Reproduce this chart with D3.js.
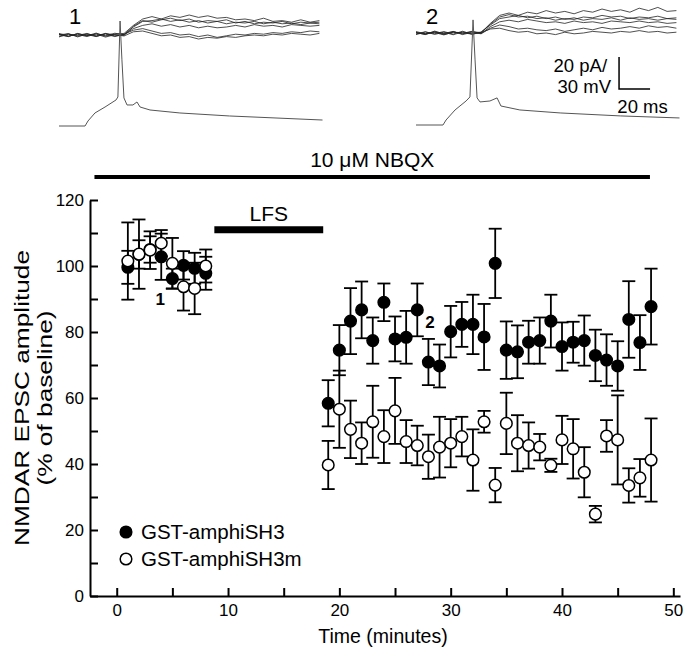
<!DOCTYPE html>
<head>
    <meta charset="utf-8">
    <script src="https://d3js.org/d3.v7.min.js"></script>
    <style>
        body { margin: 0; background: #fff; }
        text { font-family: "Liberation Sans", Arial, sans-serif; fill: #000; }
    </style>
</head>

<body>
    <div id="chart"></div>
</body>

<script>

    // time points (minutes)
    const times = [1, 2, 3, 4, 5, 6, 7, 8,
        19, 20, 21, 22, 23, 24, 25, 26, 27, 28, 29, 30, 31, 32, 33,
        34, 35, 36, 37, 38, 39, 40, 41, 42, 43, 44, 45, 46, 47, 48];

    // GST-amphiSH3 (filled)
    const sh3Mean = [99.6, 103.5, 105, 102.8, 96.2, 100.2, 99.3, 97.8,
        58.4, 74.5, 83.3, 86.7, 77.4, 89, 77.9, 78.4, 86.7, 70.9, 69.7, 80.1, 82.3, 82.3, 78.5,
        100.8, 74.5, 74, 76.9, 77.4, 83.3, 75.6, 76.9, 77.4, 72.9, 71.5, 69.7, 83.8, 76.8, 87.7];
    const sh3Sem = [5, 4.3, 4, 7, 3, 4.3, 4.7, 5,
        7, 7.6, 10, 8.6, 7, 5.7, 6.8, 8, 8, 7, 6.5, 7.8, 6.8, 9, 10,
        10.5, 8.7, 8, 6.5, 7, 8, 7.3, 6.2, 7.6, 7.8, 7.8, 7.5, 11.6, 8.3, 11.5];

    // GST-amphiSH3m (open)
    const sh3mMean = [101.5, 103.6, 104.8, 106.9, 100.8, 93.7, 93.2, 100,
        39.7, 56.6, 50.5, 46.3, 52.8, 48.3, 56.1, 46.8, 45.6, 42.2, 45.1, 46.3, 48.3, 41.2, 52.8,
        33.6, 52.3, 46.3, 45.6, 45.1, 39.6, 47.3, 44.6, 37.5, 24.8, 48.5, 47.3, 33.5, 35.8, 41.2];
    const sh3mSem = [11.7, 10.5, 5.7, 4, 7.7, 7.2, 7.8, 5,
        7.3, 11.7, 8.7, 6.3, 10.9, 8, 10, 6.5, 6, 6.7, 9.2, 7.3, 6, 9.3, 3.3,
        5.2, 9.3, 8.5, 7, 4, 2, 7.3, 9, 7.6, 2.5, 4.8, 13.5, 5.2, 5.7, 12.6];

    const seriesNames = ["GST-amphiSH3", "GST-amphiSH3m"];

    // drug / protocol bars (minutes)
    const nbqx = {label: "10 \u03bcM NBQX", start: -2, end: 47.9};
    const lfs = {label: "LFS", start: 8.77, end: 18.55, level: 111};

    // example trace labels placed on the time course
    const marks = [{label: "1", t: 3.9, v: 90}, {label: "2", t: 28.15, v: 83}];

    // ---- example traces (ms, pA and mV) ----
    const traceTimes = [0, 6, 12, 18, 24, 30, 36, 42, 48, 54, 60, 66, 72, 78, 84, 90, 96, 102,
        108, 114, 120, 126, 132, 138, 144, 150, 156, 162, 168];

    const epsc1 = [
        [0.5, -1, 1, -0.5, 1.2, -0.8, 0.6, 1, 6, 10, 11.5, 10, 12, 11, 12.5, 11, 12, 10.5, 11, 9.5, 10, 9, 10.5, 8.5, 9, 8, 9.5, 8, 9],
        [-0.8, 0.9, -1.2, 0.7, -0.5, 1, -0.6, 0.4, 5, 8.5, 9, 10, 8.5, 9.5, 8, 9, 7.5, 8.5, 7, 8, 7.5, 8.5, 7, 8, 7, 7.5, 6.5, 7.5, 7],
        [0.2, 0.7, -0.8, 0.3, -1, 0.9, 0.1, -0.3, 5.5, 9, 8, 9.5, 10.5, 9, 10, 8, 9, 8.5, 9.5, 7.5, 8.5, 7, 8, 7.5, 8.5, 7, 8, 7.5, 8],
        [1, -0.6, 0.4, -1, 0.8, -0.4, 1.1, 0.2, 4, 6, 7, 5.5, 6.5, 5, 6, 4.5, 5.5, 4.5, 5, 6, 5, 6.5, 5.5, 6, 5, 6.5, 6, 5.5, 6],
        [-1.2, 0.4, -0.3, 1, -0.9, 0.6, -1, 0.5, 3, 4, 2.5, 1, 1.5, 0, 0.5, -1, 0, -1.5, -0.5, 0.5, 0, 1, 0.5, 1.5, 1, 2, 1.5, 2.5, 2],
        [0.3, -1, 0.9, -0.4, 0.6, -1.3, 0.2, -0.6, 2, 2.5, 1, -0.5, 0, -1.5, -1, -2.5, -1.5, -2, -1, -1.5, -0.5, 0, -0.5, 0.5, 0, 1, 0.5, 0, 1]
    ];
    const epsc2 = [
        [0.4, -1, 1.2, -0.5, 0.8, -0.6, 0.9, 0.2, 6, 11, 12.5, 11, 13, 12, 14, 12.5, 13.5, 12, 14, 13, 15, 13.5, 14.5, 13, 15.5, 14, 16, 13.5, 14],
        [-0.6, 0.8, -0.9, 0.5, -1.1, 0.7, -0.3, 0.6, 5, 9, 10, 11, 9.5, 10.5, 9, 10, 8.5, 9.5, 8, 9, 8.5, 9.5, 8, 9.5, 8.5, 9, 8, 9, 8.5],
        [0.1, -0.4, 0.8, -1, 0.5, 0.2, -0.7, 0.4, 5.5, 10, 11.5, 10, 10.5, 9, 9.5, 8, 9, 8.5, 10, 9.5, 11, 10, 10.5, 9, 10, 9.5, 10.5, 9, 9.5],
        [0.9, -0.5, 0.3, -1.2, 0.6, -0.2, 1, -0.4, 4, 7, 8, 7, 8.5, 7.5, 6.5, 7, 6, 7.5, 6.5, 7, 6, 7.5, 7, 6.5, 7.5, 6.5, 7, 6, 6.5],
        [-1, 0.6, -0.4, 0.9, -0.7, 1.1, -0.8, 0.3, 2.5, 3, 1.5, 0.5, 1, -0.5, 0, -1, 0.5, -0.5, 0, 1, 0.5, 0, 1, 0.5, 1.5, 0.5, 1, 0, 0.5],
        [0.2, -0.9, 0.7, -0.3, 1, -1, 0.4, -0.5, 3, 5, 4, 2.5, 3, 2, 1.5, 2.5, 1, 2, 3, 2, 3.5, 2.5, 3, 4, 3, 4.5, 3.5, 4, 3]
    ];

    // postsynaptic action potential, [ms, mV]
    const spike1 = [[0, -70], [16.8, -70], [18.7, -65.3], [23.2, -57.8], [29.7, -52.2], [36.8, -45.6],
        [38, -42.8], [39.4, 28.4], [40.6, -8], [41.9, -43.7], [43.9, -50.3], [47.7, -50.3], [50.3, -47.5],
        [52.3, -52.2], [58.7, -55], [78, -57.8], [110, -60.6], [170, -64.4]];
    const spike2 = [[0, -70], [17.4, -70], [19.4, -65.3], [25.2, -55.9], [32.3, -47.5], [34.8, -43.7],
        [36.8, 28.5], [38.1, -9], [39.4, -44.6], [41.3, -48.4], [47.7, -47.5], [52.3, -44.6], [54.8, -52.2],
        [67, -55.9], [93, -58.7], [132, -61.5], [170, -63.4]];

    const svg = d3.select("#chart")
        .append("svg")
            .attr("width", 685)
            .attr("height", 655);

    // ---------- time course ----------
    const x = d3.scaleLinear()
        .domain([-2.4, 50.6])
        .range([90, 680]);
    const y = d3.scaleLinear()
        .domain([0, 120])
        .range([596, 200]);

    // X axis
    const xAx = svg.append("g")
        .attr("transform", `translate(0, ${y(0)})`)
        .call(d3.axisBottom(x)
            .tickValues(d3.range(0, 51, 5))
            .tickSizeInner(-8)
            .tickSizeOuter(0)
            .tickPadding(6)
            .tickFormat(d => d % 10 === 0 ? d : ""));

    // Y axis
    const yAx = svg.append("g")
        .attr("transform", `translate(${x(-2.4)}, 0)`)
        .call(d3.axisLeft(y)
            .tickValues(d3.range(0, 121, 10))
            .tickSizeInner(-8)
            .tickSizeOuter(0)
            .tickPadding(6)
            .tickFormat(d => d % 20 === 0 ? d : ""));

    [xAx, yAx].forEach(g => {
        g.selectAll("path, line").attr("stroke", "#000").attr("stroke-width", 2);
        g.selectAll("text").attr("font-size", 17).attr("font-family", "Liberation Sans, Arial, sans-serif").attr("fill", "#000");
    });
    xAx.selectAll("text").attr("dy", "0.85em");

    // axis titles
    svg.append("text")
        .attr("x", (x(-2.4) + x(50.6)) / 2 - 2)
        .attr("y", 643)
        .attr("text-anchor", "middle")
        .attr("font-size", 19.5)
        .text("Time (minutes)");

    const yt = svg.append("text")
        .attr("transform", `translate(0, ${y(60)}) rotate(-90) scale(1.25, 1)`)
        .attr("text-anchor", "middle")
        .attr("font-size", 21);
    yt.append("tspan").attr("x", 0).attr("y", 29).text("NMDAR EPSC amplitude");
    yt.append("tspan").attr("x", 0).attr("y", 52).text("(% of baseline)");

    // NBQX and LFS bars
    svg.append("line")
        .attr("x1", x(nbqx.start)).attr("x2", x(nbqx.end))
        .attr("y1", 177).attr("y2", 177)
        .attr("stroke", "#000").attr("stroke-width", 4);
    svg.append("text")
        .attr("x", (x(nbqx.start) + x(nbqx.end)) / 2)
        .attr("y", 167)
        .attr("text-anchor", "middle")
        .attr("font-size", 21)
        .text(nbqx.label);

    svg.append("line")
        .attr("x1", x(lfs.start)).attr("x2", x(lfs.end))
        .attr("y1", y(lfs.level)).attr("y2", y(lfs.level))
        .attr("stroke", "#000").attr("stroke-width", 7);
    svg.append("text")
        .attr("x", (x(lfs.start) + x(lfs.end)) / 2)
        .attr("y", y(lfs.level) - 9)
        .attr("text-anchor", "middle")
        .attr("font-size", 21)
        .text(lfs.label);

    // data series
    const series = [
        {name: seriesNames[0], mean: sh3Mean, sem: sh3Sem, fill: "#000"},
        {name: seriesNames[1], mean: sh3mMean, sem: sh3mSem, fill: "#fff"}
    ];
    const cap = 6.5;

    series.forEach(s => {
        const pts = times.map((t, i) => ({t: t, m: s.mean[i], e: s.sem[i]}));
        const g = svg.append("g");

        const eb = g.selectAll(".eb")
            .data(pts)
            .join("g")
            .attr("stroke", "#000")
            .attr("stroke-width", 1.8);
        eb.append("line")
            .attr("x1", d => x(d.t)).attr("x2", d => x(d.t))
            .attr("y1", d => y(d.m + d.e)).attr("y2", d => y(d.m - d.e));
        eb.append("line")
            .attr("x1", d => x(d.t) - cap).attr("x2", d => x(d.t) + cap)
            .attr("y1", d => y(d.m + d.e)).attr("y2", d => y(d.m + d.e));
        eb.append("line")
            .attr("x1", d => x(d.t) - cap).attr("x2", d => x(d.t) + cap)
            .attr("y1", d => y(d.m - d.e)).attr("y2", d => y(d.m - d.e));

        g.selectAll("circle")
            .data(pts)
            .join("circle")
                .attr("cx", d => x(d.t))
                .attr("cy", d => y(d.m))
                .attr("r", 5.8)
                .attr("fill", s.fill)
                .attr("stroke", "#000")
                .attr("stroke-width", 1.5);
    });

    // trace markers "1" and "2"
    svg.selectAll(".mark")
        .data(marks)
        .join("text")
            .attr("x", d => x(d.t))
            .attr("y", d => y(d.v) + 6)
            .attr("text-anchor", "middle")
            .attr("font-size", 17)
            .attr("font-weight", "bold")
            .text(d => d.label);

    // legend
    const legend = svg.selectAll(".legend")
        .data(series)
        .join("g")
            .attr("transform", (d, i) => `translate(126, ${532 + i * 27})`);
    legend.append("circle")
        .attr("r", 5.8)
        .attr("fill", d => d.fill)
        .attr("stroke", "#000")
        .attr("stroke-width", 1.5);
    legend.append("text")
        .attr("x", 15)
        .attr("y", 7)
        .attr("font-size", 20.5)
        .text(d => d.name);

    // ---------- example traces ----------
    const panels = [
        {label: "1", epsc: epsc1, spike: spike1, x0: 59, base: 35, rest: 126},
        {label: "2", epsc: epsc2, spike: spike2, x0: 416, base: 33, rest: 125}
    ];

    panels.forEach(p => {
        const tx = d3.scaleLinear().domain([0, 170]).range([p.x0, p.x0 + 263.5]);
        const ty = d3.scaleLinear().domain([0, 20]).range([p.base, p.base - 32]);
        const tv = d3.scaleLinear().domain([-70, 30]).range([p.rest, p.rest - 106.7]);

        const line = d3.line()
            .x((d, i) => tx(traceTimes[i]))
            .y(d => ty(d));

        svg.append("g")
            .selectAll("path")
            .data(p.epsc)
            .join("path")
                .attr("fill", "none")
                .attr("stroke", "#222")
                .attr("stroke-width", 0.8)
                .attr("d", d => line(d));

        svg.append("path")
            .datum(p.spike)
            .attr("fill", "none")
            .attr("stroke", "#555")
            .attr("stroke-width", 1)
            .attr("d", d3.line().x(d => tx(d[0])).y(d => tv(d[1])));

        svg.append("text")
            .attr("x", p.x0 + 16)
            .attr("y", 24)
            .attr("text-anchor", "middle")
            .attr("font-size", 22)
            .text(p.label);

        // scale bar on the second panel
        if (p.label === "2") {
            svg.append("path")
                .attr("fill", "none")
                .attr("stroke", "#000")
                .attr("stroke-width", 1.5)
                .attr("d", `M${tx(131)},${ty(-15)}V${ty(-35)}H${tx(151)}`);
            svg.append("text")
                .attr("x", tx(131) - 12).attr("y", ty(-15) + 15)
                .attr("text-anchor", "end").attr("font-size", 18.5)
                .text("20 pA/");
            svg.append("text")
                .attr("x", tx(131) - 8).attr("y", ty(-35) + 4)
                .attr("text-anchor", "end").attr("font-size", 18.5)
                .text("30 mV");
            svg.append("text")
                .attr("x", (tx(131) + tx(151)) / 2 + 8).attr("y", ty(-35) + 24)
                .attr("text-anchor", "middle").attr("font-size", 18.5)
                .text("20 ms");
        }
    });

</script>
</html>
